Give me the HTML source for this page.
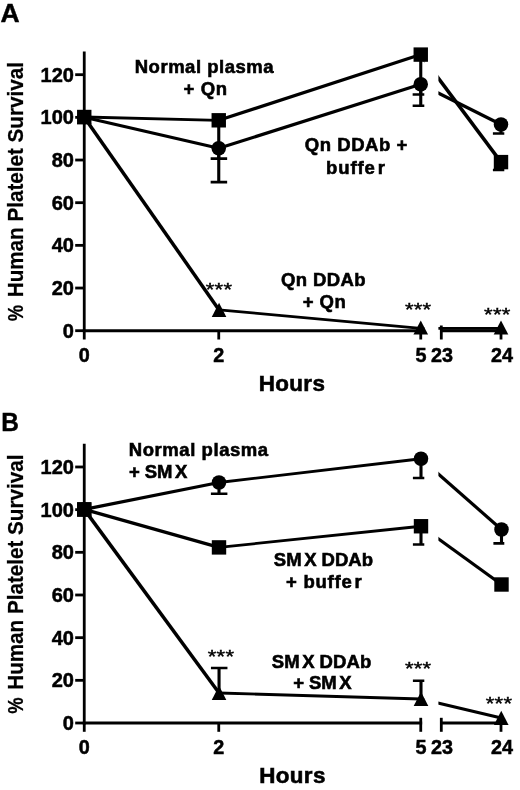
<!DOCTYPE html><html><head><meta charset="utf-8"><title>Figure</title><style>html,body{margin:0;padding:0;background:#fff;}svg{display:block;filter:blur(0.35px);}text{font-family:"Liberation Sans",sans-serif;fill:#000;}</style></head><body>
<svg width="520" height="790" viewBox="0 0 520 790">
<rect width="520" height="790" fill="#fff"/>
<clipPath id="cla"><rect x="0" y="0" width="424.3" height="400"/><rect x="438.4" y="0" width="65.9" height="400"/></clipPath>
<line x1="84.25" y1="51.5" x2="84.25" y2="332.09999999999997" stroke="#000" stroke-width="2.8"/>
<line x1="75.2" y1="330.70" x2="84.25" y2="330.70" stroke="#000" stroke-width="2.8"/>
<text x="73.9" y="337.80" text-anchor="end" font-weight="bold" font-size="20" stroke="#000" stroke-width="0.5">0</text>
<line x1="75.2" y1="288.03" x2="84.25" y2="288.03" stroke="#000" stroke-width="2.8"/>
<text x="73.9" y="295.13" text-anchor="end" font-weight="bold" font-size="20" stroke="#000" stroke-width="0.5">20</text>
<line x1="75.2" y1="245.36" x2="84.25" y2="245.36" stroke="#000" stroke-width="2.8"/>
<text x="73.9" y="252.46" text-anchor="end" font-weight="bold" font-size="20" stroke="#000" stroke-width="0.5">40</text>
<line x1="75.2" y1="202.69" x2="84.25" y2="202.69" stroke="#000" stroke-width="2.8"/>
<text x="73.9" y="209.79" text-anchor="end" font-weight="bold" font-size="20" stroke="#000" stroke-width="0.5">60</text>
<line x1="75.2" y1="160.02" x2="84.25" y2="160.02" stroke="#000" stroke-width="2.8"/>
<text x="73.9" y="167.12" text-anchor="end" font-weight="bold" font-size="20" stroke="#000" stroke-width="0.5">80</text>
<line x1="75.2" y1="117.35" x2="84.25" y2="117.35" stroke="#000" stroke-width="2.8"/>
<text x="73.9" y="124.45" text-anchor="end" font-weight="bold" font-size="20" stroke="#000" stroke-width="0.5">100</text>
<line x1="75.2" y1="74.68" x2="84.25" y2="74.68" stroke="#000" stroke-width="2.8"/>
<text x="73.9" y="81.78" text-anchor="end" font-weight="bold" font-size="20" stroke="#000" stroke-width="0.5">120</text>
<line x1="82.85" y1="330.7" x2="422.15" y2="330.7" stroke="#000" stroke-width="3"/>
<line x1="440" y1="330.7" x2="501.5" y2="330.7" stroke="#000" stroke-width="3"/>
<line x1="84.25" y1="330.7" x2="84.25" y2="339.5" stroke="#000" stroke-width="2.8"/>
<line x1="218.75" y1="330.7" x2="218.75" y2="339.5" stroke="#000" stroke-width="2.8"/>
<line x1="501.0" y1="330.7" x2="501.0" y2="339.5" stroke="#000" stroke-width="2.8"/>
<line x1="420.75" y1="325.5" x2="420.75" y2="339.5" stroke="#000" stroke-width="2.8"/>
<line x1="441.3" y1="325.5" x2="441.3" y2="339.5" stroke="#000" stroke-width="2.8"/>
<text x="84.25" y="361.60" text-anchor="middle" font-weight="bold" font-size="19.8" stroke="#000" stroke-width="0.5">0</text>
<text x="218.75" y="361.60" text-anchor="middle" font-weight="bold" font-size="19.8" stroke="#000" stroke-width="0.5">2</text>
<text x="421.1" y="361.60" text-anchor="middle" font-weight="bold" font-size="19.8" stroke="#000" stroke-width="0.5">5</text>
<text x="442.0" y="361.60" text-anchor="middle" font-weight="bold" font-size="19.8" stroke="#000" stroke-width="0.5">23</text>
<text x="502" y="361.60" text-anchor="middle" font-weight="bold" font-size="19.8" stroke="#000" stroke-width="0.5">24</text>
<line x1="84.25" y1="117.20" x2="219.05" y2="309.90" stroke="#000" stroke-width="3.5" clip-path="url(#cla)"/>
<line x1="219.05" y1="309.90" x2="420.75" y2="328.30" stroke="#000" stroke-width="2.8" clip-path="url(#cla)"/>
<line x1="420.75" y1="328.30" x2="501.00" y2="328.30" stroke="#000" stroke-width="2.8" clip-path="url(#cla)"/>
<path d="M84.25,110.00 L91.55,124.20 L76.95,124.20 Z" fill="#000"/>
<path d="M219.05,302.70 L226.35,316.90 L211.75,316.90 Z" fill="#000"/>
<path d="M420.75,320.40 L428.05,334.60 L413.45,334.60 Z" fill="#000"/>
<path d="M501.00,320.40 L508.30,334.60 L493.70,334.60 Z" fill="#000"/>
<line x1="84.25" y1="117.20" x2="218.75" y2="148.25" stroke="#000" stroke-width="3.2" clip-path="url(#cla)"/>
<line x1="218.75" y1="148.25" x2="420.75" y2="84.25" stroke="#000" stroke-width="3.2" clip-path="url(#cla)"/>
<line x1="420.75" y1="84.25" x2="501.00" y2="124.50" stroke="#000" stroke-width="3.2" clip-path="url(#cla)"/>
<g clip-path="url(#cla)"><line x1="218.75" y1="148" x2="218.75" y2="182.1" stroke="#000" stroke-width="3.1"/><line x1="210.65" y1="182.1" x2="227.15" y2="182.1" stroke="#000" stroke-width="2.7"/><line x1="420.75" y1="84" x2="420.75" y2="105.75" stroke="#000" stroke-width="3.1"/><line x1="412.65" y1="105.75" x2="429.15" y2="105.75" stroke="#000" stroke-width="2.7"/><line x1="501.0" y1="124.5" x2="501.0" y2="133.5" stroke="#000" stroke-width="3.1"/><line x1="492.9" y1="133.5" x2="509.4" y2="133.5" stroke="#000" stroke-width="2.7"/></g>
<circle cx="84.25" cy="117.20" r="7.25" fill="#000"/>
<circle cx="218.75" cy="148.25" r="7.25" fill="#000"/>
<circle cx="420.75" cy="84.25" r="7.25" fill="#000"/>
<circle cx="501.00" cy="124.50" r="7.25" fill="#000"/>
<line x1="84.25" y1="117.00" x2="218.75" y2="120.30" stroke="#000" stroke-width="2.8" clip-path="url(#cla)"/>
<line x1="218.75" y1="120.30" x2="420.75" y2="54.60" stroke="#000" stroke-width="3.2" clip-path="url(#cla)"/>
<line x1="420.75" y1="54.60" x2="501.00" y2="162.10" stroke="#000" stroke-width="3.5" clip-path="url(#cla)"/>
<g clip-path="url(#cla)"><line x1="218.75" y1="120" x2="218.75" y2="158.7" stroke="#000" stroke-width="3.1"/><line x1="210.65" y1="158.7" x2="227.15" y2="158.7" stroke="#000" stroke-width="2.7"/><line x1="420.75" y1="55" x2="420.75" y2="94.5" stroke="#000" stroke-width="3.1"/><line x1="412.65" y1="94.5" x2="429.15" y2="94.5" stroke="#000" stroke-width="2.7"/><line x1="501.0" y1="162" x2="501.0" y2="170" stroke="#000" stroke-width="3.1"/><line x1="492.9" y1="170" x2="509.4" y2="170" stroke="#000" stroke-width="2.7"/></g>
<rect x="77.05" y="109.80" width="14.4" height="14.4" fill="#000"/>
<rect x="211.55" y="113.10" width="14.4" height="14.4" fill="#000"/>
<rect x="413.55" y="47.40" width="14.4" height="14.4" fill="#000"/>
<rect x="493.80" y="154.90" width="14.4" height="14.4" fill="#000"/>
<text id="LetA" transform="translate(0.50,21.5) scale(1.0435,1)" font-size="25.4" font-weight="bold" stroke="#000" stroke-width="0.4">A</text>
<text id="NormalA" x="134.75" y="72.5" font-weight="bold" font-size="18.5" letter-spacing="0.508" stroke="#000" stroke-width="0.6">Normal plasma</text>
<text id="QnA" x="183.50" y="95.0" font-weight="bold" font-size="18.5" letter-spacing="0.600" stroke="#000" stroke-width="0.6">+ Qn</text>
<text id="QnDDAbP" x="304.75" y="151.4" font-weight="bold" font-size="18.5" letter-spacing="0.550" stroke="#000" stroke-width="0.6">Qn DDAb +</text>
<text id="buffer" x="326.00" y="174.2" font-weight="bold" font-size="18.5" letter-spacing="0.920" stroke="#000" stroke-width="0.6">buffe<tspan dx="2.0">r</tspan></text>
<text id="QnDDAb" x="281.00" y="285.8" font-weight="bold" font-size="18.5" letter-spacing="0.375" stroke="#000" stroke-width="0.6">Qn DDAb</text>
<text id="Qn2" x="302.75" y="307.9" font-weight="bold" font-size="18.5" letter-spacing="0.433" stroke="#000" stroke-width="0.6">+ Qn</text>
<text id="HoursA" x="258.75" y="390.8" font-weight="bold" font-size="22.4" letter-spacing="0.363" stroke="#000" stroke-width="0.6">Hours</text>
<text id="YlabA" transform="translate(23.0,297.25) rotate(-90) scale(0.9475,1)" font-size="21.8" font-weight="bold" stroke="#000" stroke-width="0.25">Human Platelet Survival</text>
<text id="YlabPctA" transform="translate(23.0,321.25) rotate(-90) scale(0.8408,1)" font-size="21.8" font-weight="bold" stroke="#000" stroke-width="0.25">%</text>
<text transform="translate(219,294.90) scale(1,0.87)" x="0" y="1.6" text-anchor="middle" font-size="22" letter-spacing="0.25" stroke="#000" stroke-width="0.5">***</text>
<text transform="translate(418.2,314.80) scale(1,0.87)" x="0" y="1.6" text-anchor="middle" font-size="22" letter-spacing="0.25" stroke="#000" stroke-width="0.5">***</text>
<text transform="translate(497.3,319.30) scale(1,0.87)" x="0" y="1.6" text-anchor="middle" font-size="22" letter-spacing="0.25" stroke="#000" stroke-width="0.5">***</text>
<clipPath id="clb"><rect x="0" y="392.3" width="424.3" height="400"/><rect x="438.4" y="392.3" width="65.9" height="400"/></clipPath>
<line x1="84.25" y1="443.8" x2="84.25" y2="724.4" stroke="#000" stroke-width="2.8"/>
<line x1="75.2" y1="723.00" x2="84.25" y2="723.00" stroke="#000" stroke-width="2.8"/>
<text x="73.9" y="730.10" text-anchor="end" font-weight="bold" font-size="20" stroke="#000" stroke-width="0.5">0</text>
<line x1="75.2" y1="680.33" x2="84.25" y2="680.33" stroke="#000" stroke-width="2.8"/>
<text x="73.9" y="687.43" text-anchor="end" font-weight="bold" font-size="20" stroke="#000" stroke-width="0.5">20</text>
<line x1="75.2" y1="637.66" x2="84.25" y2="637.66" stroke="#000" stroke-width="2.8"/>
<text x="73.9" y="644.76" text-anchor="end" font-weight="bold" font-size="20" stroke="#000" stroke-width="0.5">40</text>
<line x1="75.2" y1="594.99" x2="84.25" y2="594.99" stroke="#000" stroke-width="2.8"/>
<text x="73.9" y="602.09" text-anchor="end" font-weight="bold" font-size="20" stroke="#000" stroke-width="0.5">60</text>
<line x1="75.2" y1="552.32" x2="84.25" y2="552.32" stroke="#000" stroke-width="2.8"/>
<text x="73.9" y="559.42" text-anchor="end" font-weight="bold" font-size="20" stroke="#000" stroke-width="0.5">80</text>
<line x1="75.2" y1="509.65" x2="84.25" y2="509.65" stroke="#000" stroke-width="2.8"/>
<text x="73.9" y="516.75" text-anchor="end" font-weight="bold" font-size="20" stroke="#000" stroke-width="0.5">100</text>
<line x1="75.2" y1="466.98" x2="84.25" y2="466.98" stroke="#000" stroke-width="2.8"/>
<text x="73.9" y="474.08" text-anchor="end" font-weight="bold" font-size="20" stroke="#000" stroke-width="0.5">120</text>
<line x1="82.85" y1="723.0" x2="422.15" y2="723.0" stroke="#000" stroke-width="3"/>
<line x1="440" y1="723.0" x2="501.5" y2="723.0" stroke="#000" stroke-width="3"/>
<line x1="84.25" y1="723.0" x2="84.25" y2="731.8" stroke="#000" stroke-width="2.8"/>
<line x1="218.75" y1="723.0" x2="218.75" y2="731.8" stroke="#000" stroke-width="2.8"/>
<line x1="501.0" y1="723.0" x2="501.0" y2="731.8" stroke="#000" stroke-width="2.8"/>
<line x1="420.75" y1="717.8" x2="420.75" y2="731.8" stroke="#000" stroke-width="2.8"/>
<line x1="441.3" y1="717.8" x2="441.3" y2="731.8" stroke="#000" stroke-width="2.8"/>
<text x="84.25" y="753.90" text-anchor="middle" font-weight="bold" font-size="19.8" stroke="#000" stroke-width="0.5">0</text>
<text x="218.75" y="753.90" text-anchor="middle" font-weight="bold" font-size="19.8" stroke="#000" stroke-width="0.5">2</text>
<text x="421.1" y="753.90" text-anchor="middle" font-weight="bold" font-size="19.8" stroke="#000" stroke-width="0.5">5</text>
<text x="442.0" y="753.90" text-anchor="middle" font-weight="bold" font-size="19.8" stroke="#000" stroke-width="0.5">23</text>
<text x="502" y="753.90" text-anchor="middle" font-weight="bold" font-size="19.8" stroke="#000" stroke-width="0.5">24</text>
<line x1="84.25" y1="509.40" x2="219.05" y2="693.00" stroke="#000" stroke-width="3.5" clip-path="url(#clb)"/>
<line x1="219.05" y1="693.00" x2="421.00" y2="699.00" stroke="#000" stroke-width="2.8" clip-path="url(#clb)"/>
<line x1="421.00" y1="699.00" x2="501.25" y2="718.00" stroke="#000" stroke-width="3.2" clip-path="url(#clb)"/>
<g clip-path="url(#clb)"><line x1="219.05" y1="693" x2="219.05" y2="668" stroke="#000" stroke-width="3.1"/><line x1="210.95000000000002" y1="668" x2="227.45000000000002" y2="668" stroke="#000" stroke-width="2.7"/><line x1="421" y1="699" x2="421" y2="680.75" stroke="#000" stroke-width="3.1"/><line x1="412.9" y1="680.75" x2="429.4" y2="680.75" stroke="#000" stroke-width="2.7"/></g>
<path d="M84.25,502.20 L91.55,516.40 L76.95,516.40 Z" fill="#000"/>
<path d="M219.05,685.80 L226.35,700.00 L211.75,700.00 Z" fill="#000"/>
<path d="M421.00,691.80 L428.30,706.00 L413.70,706.00 Z" fill="#000"/>
<path d="M501.25,710.80 L508.55,725.00 L493.95,725.00 Z" fill="#000"/>
<line x1="84.25" y1="509.40" x2="219.00" y2="547.40" stroke="#000" stroke-width="3.2" clip-path="url(#clb)"/>
<line x1="219.00" y1="547.40" x2="421.00" y2="526.25" stroke="#000" stroke-width="2.8" clip-path="url(#clb)"/>
<line x1="421.00" y1="526.25" x2="501.50" y2="584.50" stroke="#000" stroke-width="3.2" clip-path="url(#clb)"/>
<g clip-path="url(#clb)"><line x1="421" y1="526" x2="421" y2="544.5" stroke="#000" stroke-width="3.1"/><line x1="412.9" y1="544.5" x2="429.4" y2="544.5" stroke="#000" stroke-width="2.7"/></g>
<rect x="77.05" y="502.20" width="14.4" height="14.4" fill="#000"/>
<rect x="211.80" y="540.20" width="14.4" height="14.4" fill="#000"/>
<rect x="413.80" y="519.05" width="14.4" height="14.4" fill="#000"/>
<rect x="494.30" y="577.30" width="14.4" height="14.4" fill="#000"/>
<line x1="84.25" y1="509.40" x2="219.00" y2="482.50" stroke="#000" stroke-width="3.2" clip-path="url(#clb)"/>
<line x1="219.00" y1="482.50" x2="421.00" y2="458.75" stroke="#000" stroke-width="2.8" clip-path="url(#clb)"/>
<line x1="421.00" y1="458.75" x2="501.50" y2="529.50" stroke="#000" stroke-width="3.2" clip-path="url(#clb)"/>
<g clip-path="url(#clb)"><line x1="219" y1="482" x2="219" y2="493.75" stroke="#000" stroke-width="3.1"/><line x1="210.9" y1="493.75" x2="227.4" y2="493.75" stroke="#000" stroke-width="2.7"/><line x1="421" y1="458" x2="421" y2="478" stroke="#000" stroke-width="3.1"/><line x1="412.9" y1="478" x2="429.4" y2="478" stroke="#000" stroke-width="2.7"/><line x1="501.5" y1="529" x2="501.5" y2="543.4" stroke="#000" stroke-width="3.1"/><line x1="493.4" y1="543.4" x2="509.9" y2="543.4" stroke="#000" stroke-width="2.7"/></g>
<circle cx="84.25" cy="509.40" r="7.25" fill="#000"/>
<circle cx="219.00" cy="482.50" r="7.25" fill="#000"/>
<circle cx="421.00" cy="458.75" r="7.25" fill="#000"/>
<circle cx="501.50" cy="529.50" r="7.25" fill="#000"/>
<rect x="77.15" y="502.30" width="14.2" height="14.2" fill="#000"/>
<text id="LetB" transform="translate(1.25,431.25) scale(0.9779,1)" font-size="25.0" font-weight="bold" stroke="#000" stroke-width="0.4">B</text>
<text id="NormalB" x="128.75" y="455.7" font-weight="bold" font-size="18.5" letter-spacing="0.563" stroke="#000" stroke-width="0.6">Normal plasma</text>
<text id="SMX" x="129.00" y="477.6" font-weight="bold" font-size="18.5" letter-spacing="-0.100" stroke="#000" stroke-width="0.6">+ SM<tspan dx="2.6">X</tspan></text>
<text id="SMXDDAb1" x="273.75" y="565.8" font-weight="bold" font-size="18.5" letter-spacing="0.071" stroke="#000" stroke-width="0.6">SM<tspan dx="2.6">X</tspan><tspan dx="-0.4"> DDAb</tspan></text>
<text id="Pbuffer" x="286.00" y="587.9" font-weight="bold" font-size="18.5" letter-spacing="0.764" stroke="#000" stroke-width="0.6">+ buffe<tspan dx="2.0">r</tspan></text>
<text id="SMXDDAb2" x="271.75" y="667.7" font-weight="bold" font-size="18.5" letter-spacing="0.100" stroke="#000" stroke-width="0.6">SM<tspan dx="2.6">X</tspan><tspan dx="-0.4"> DDAb</tspan></text>
<text id="SMX2" x="293.25" y="689.2" font-weight="bold" font-size="18.5" letter-spacing="-0.075" stroke="#000" stroke-width="0.6">+ SM<tspan dx="2.6">X</tspan></text>
<text id="HoursB" x="259.25" y="783.0" font-weight="bold" font-size="22.4" letter-spacing="0.363" stroke="#000" stroke-width="0.6">Hours</text>
<text id="YlabB" transform="translate(23.0,689.75) rotate(-90) scale(0.9475,1)" font-size="21.8" font-weight="bold" stroke="#000" stroke-width="0.25">Human Platelet Survival</text>
<text id="YlabPctB" transform="translate(23.0,713.75) rotate(-90) scale(0.8408,1)" font-size="21.8" font-weight="bold" stroke="#000" stroke-width="0.25">%</text>
<text transform="translate(221,661.50) scale(1,0.87)" x="0" y="1.6" text-anchor="middle" font-size="22" letter-spacing="0.25" stroke="#000" stroke-width="0.5">***</text>
<text transform="translate(418.2,674.00) scale(1,0.87)" x="0" y="1.6" text-anchor="middle" font-size="22" letter-spacing="0.25" stroke="#000" stroke-width="0.5">***</text>
<text transform="translate(499,708.30) scale(1,0.87)" x="0" y="1.6" text-anchor="middle" font-size="22" letter-spacing="0.25" stroke="#000" stroke-width="0.5">***</text>
</svg></body></html>
